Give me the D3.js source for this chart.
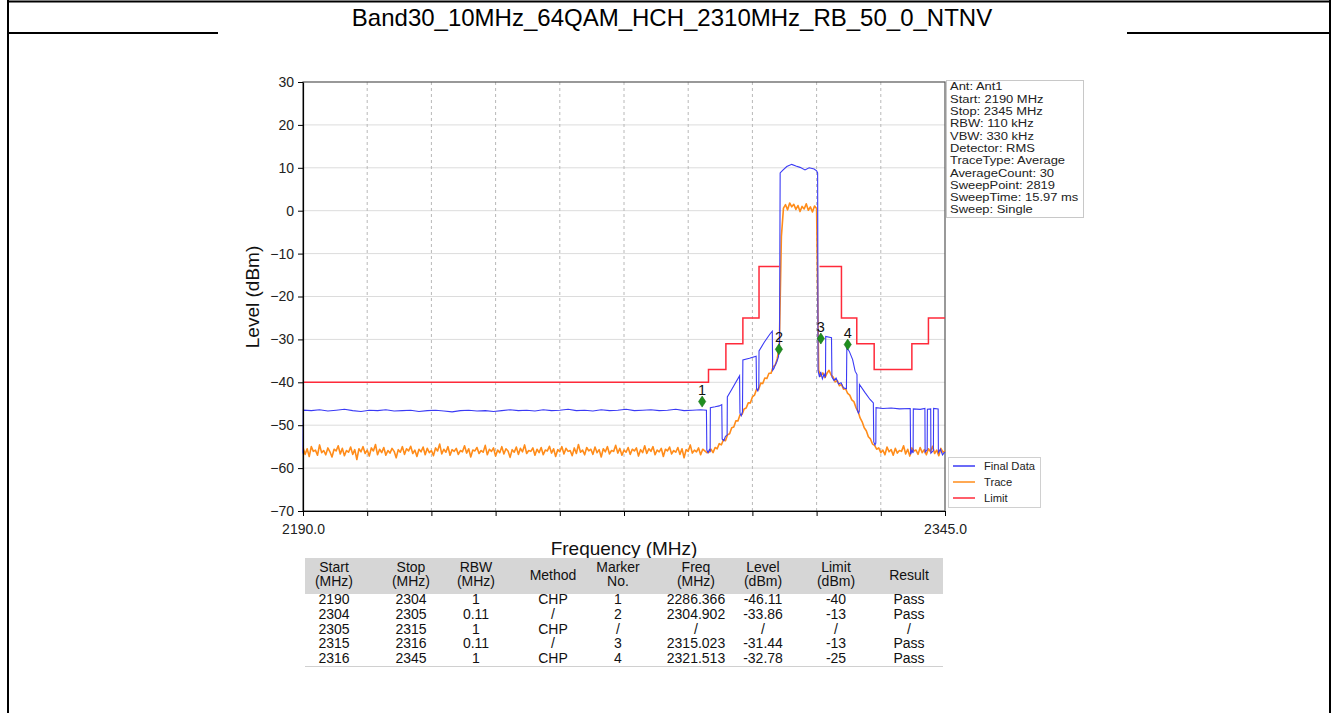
<!DOCTYPE html>
<html><head><meta charset="utf-8">
<script src="https://cdn.jsdelivr.net/npm/d3@7"></script>
<style>
body{margin:0;background:#fff}
svg{display:block;font-family:"Liberation Sans",Arial,sans-serif}
</style>
</head><body>
<svg id="c" width="1338" height="713"></svg>
<script>
// ---------------- DATA ----------------
const title = "Band30_10MHz_64QAM_HCH_2310MHz_RB_50_0_NTNV";
const xDomain = [2190, 2345];
const yDomain = [-70, 30];
const xTickValues = [2190, 2205.5, 2221, 2236.5, 2252, 2267.5, 2283, 2298.5, 2314, 2329.5, 2345];
const yTickValues = [-70, -60, -50, -40, -30, -20, -10, 0, 10, 20, 30];
const xLabel = "Frequency (MHz)";
const yLabel = "Level (dBm)";

// Trace (orange), sweep grid step 0.5 MHz, split by region
const traceStep = 0.5;
const traceFloorLeftStart = 2190.0;
const traceFloorLeft = [
-55.2,-56.8,-55.5,-57.3,-55.0,-56.1,-55.8,-57.0,-54.6,-56.4,-55.9,-56.9,-55.3,-56.2,
-57.4,-55.6,-56.0,-54.8,-56.7,-55.4,-57.1,-55.9,-56.3,-55.1,-56.8,-55.7,-58.0,-55.5,
-56.2,-55.0,-56.6,-55.8,-57.2,-55.3,-56.0,-54.5,-56.9,-55.6,-56.4,-55.2,-57.0,-55.9,
-56.5,-55.4,-56.1,-57.6,-55.7,-56.3,-55.0,-56.8,-55.5,-56.0,-54.9,-56.6,-55.8,-57.3,
-55.6,-56.2,-55.1,-56.9,-55.4,-56.4,-55.9,-57.1,-55.3,-56.0,-54.4,-56.7,-55.6,-56.3,
-55.0,-57.0,-55.7,-56.1,-55.4,-56.8,-55.9,-56.2,-54.8,-56.5,-55.5,-57.4,-55.8,-56.0,
-55.2,-56.6,-55.9,-56.3,-54.7,-56.9,-55.6,-56.1,-55.3,-57.2,-55.8,-56.4,-55.0,-56.7,
-55.5,-56.0,-57.5,-55.7,-56.3,-55.1,-56.8,-55.4,-56.2,-54.6,-56.6,-55.9,-56.1,-55.3,
-57.0,-55.6,-56.4,-55.2,-56.9,-55.8,-56.0,-54.9,-56.5,-55.5,-57.3,-55.7,-56.2,-55.0,
-56.7,-55.4,-56.1,-55.9,-57.1,-55.3,-56.6,-54.5,-56.3,-55.8,-56.9,-55.2,-56.0,-55.6,
-56.8,-55.1,-56.4,-55.7,-57.4,-55.5,-56.2,-55.0,-56.7,-55.9,-56.1,-54.7,-56.5,-55.4,
-57.0,-55.8,-56.3,-55.2,-56.8,-55.6,-56.0,-55.3,-57.2,-55.7,-56.4,-54.8,-56.6,-55.5,
-56.1,-55.0,-56.9,-55.8,-56.2,-55.4,-57.3,-55.6,-56.0,-55.1,-56.7,-55.9,-56.3,-55.2,
-56.8,-55.5,-57.6,-55.7,-56.1,-54.6,-56.5,-55.8,-56.2,-55.3,-56.9,-55.6,-56.0,-56.4];
const traceRiseStart = 2288.0;
const traceRise = [-56.3,-55.6,-56.4,-55.2,-55.5,-54.3,-54.6,-53.4,-53.6,-52.2,-52.0,-50.6,-50.4,-49.0,
-49.0,-47.6,-47.5,-46.2,-46.0,-44.8,-44.8,-43.4,-43.0,-41.6,-41.7,-40.2,-40.3,-39.0,-39.1,-37.9,
-37.9,-36.4,-36.0,-34.5];
const traceTopStart = 2305.0;
const traceTop = [-31.5,-6.0,0.6,1.4,0.2,1.8,0.9,1.5,0.3,1.2,-0.2,1.0,0.4,1.6,0.1,0.9,-0.3,1.1,0.5];
const traceFallStart = 2314.5;
const traceFall = [-37.2,-38.6,-37.8,-38.9,-37.9,-37.2,-38.3,-38.8,-39.9,-39.6,-40.8,-40.5,-41.6,-41.5,
-42.6,-43.0,-44.1,-44.5,-45.9,-46.7,-48.3,-49.2,-50.6,-51.3,-52.7,-53.2,-54.4,-54.7,-55.6];
const traceFloorRightStart = 2329.0;
const traceFloorRight = [-55.3,-56.4,-55.8,-56.9,-55.1,-56.2,-55.7,-57.0,-55.4,-56.5,-55.9,-56.1,-54.8,
-56.7,-55.6,-57.2,-55.3,-56.0,-55.8,-56.8,-55.2,-56.4,-55.7,-56.9,-55.5,-56.2,-54.9,-56.6,-55.8,
-57.1,-55.4,-56.3,-56.0];

// Final Data (blue)
const finalFreq = [2190.0,2190.1,2192,2194,2196,2198,2200,2202,2204,2206,2208,2210,2212,2214,2216,2218,
2220,2222,2224,2226,2228,2230,2232,2234,2236,2238,2240,2242,2244,2246,2248,2250,2252,2254,2256,2258,
2260,2262,2264,2266,2268,2270,2272,2274,2276,2278,2280,2282,2284,2286,2287.4,
2287.5,2287.8,2288.1,2288.3,2288.35,2289.5,2290.5,2291.1,2291.2,2291.6,2292.0,2292.4,2292.45,2293.5,
2294.5,2295.4,2295.5,2295.8,2296.1,2296.2,2297.8,2299.4,2299.5,2299.8,2300.05,2300.1,2301.4,2302.7,
2303.3,2303.4,2303.7,2304.0,2304.4,2304.8,2305.05,2305.2,2305.8,2306.8,2308.0,2309.0,2310.0,2311.2,
2312.2,2313.4,2314.0,2314.25,2314.35,2314.7,2315.0,2315.4,2315.8,2316.15,2316.2,2317.6,2317.7,2318.2,
2318.7,2319.3,2319.9,2320.5,2321.2,2321.3,2321.9,2322.7,2323.3,2323.75,2323.8,2324.1,2324.3,2324.35,
2325.7,2326.9,2327.7,2327.8,2328.1,2328.3,2328.35,2330,2332,2334,2336.6,2336.7,2337.0,2337.3,2337.35,
2339,2340.15,2340.2,2340.7,2340.75,2341.55,2341.6,2342.2,2342.25,2343.35,2343.4,2343.9,2344.4,2345.0];
const finalLevel = [-56.6,-46.5,-46.6,-46.4,-46.7,-46.5,-46.3,-46.6,-46.8,-46.5,-46.6,-46.4,-46.7,-46.6,
-46.5,-46.8,-46.6,-46.5,-46.7,-46.9,-46.6,-46.5,-46.7,-46.6,-46.8,-46.6,-46.4,-46.6,-46.5,-46.7,-46.4,
-46.6,-46.5,-46.3,-46.6,-46.5,-46.7,-46.4,-46.6,-46.5,-46.3,-46.6,-46.5,-46.4,-46.6,-46.5,-46.3,-46.6,
-46.5,-46.4,-46.5,
-55.8,-56.4,-55.7,-56.0,-45.9,-45.7,-45.5,-45.2,-53.2,-53.6,-52.6,-52.3,-43.4,-41.7,
-40.0,-38.5,-47.2,-47.8,-46.9,-34.8,-34.4,-33.9,-41.5,-42.0,-41.0,-32.7,-30.6,-28.8,
-28.1,-37.2,-36.8,-36.0,-35.2,-34.0,-31.0,8.8,9.4,10.3,10.8,10.4,10.1,9.5,
10.0,9.7,9.3,8.8,-37.3,-38.8,-37.6,-39.2,-38.1,-38.9,-29.3,-29.6,-38.8,-39.6,
-39.0,-40.4,-40.1,-41.3,-41.5,-31.9,-32.8,-34.7,-37.4,-38.2,-46.5,-47.2,-46.8,-40.5,
-42.4,-44.0,-44.8,-53.9,-54.6,-54.2,-45.9,-46.1,-46.0,-46.2,-46.1,-56.8,-55.9,-56.5,-46.2,
-46.3,-46.1,-56.3,-55.7,-46.3,-46.2,-56.5,-55.9,-46.1,-46.2,-56.4,-55.6,-56.9,-56.2];

// Limit (red) steps
const limitStart = [2190, 2287.9, 2292.1, 2296.2, 2300.1, 2314.7, 2320.0, 2323.7, 2327.9, 2337.0, 2341.0];
const limitStop  = [2287.9, 2292.1, 2296.2, 2300.1, 2305.0, 2320.0, 2323.7, 2327.9, 2337.0, 2341.0, 2345];
const limitLevel = [-40, -37, -31, -25, -13, -13, -25, -31, -37, -31, -25];

// Markers
const markerNo = [1, 2, 3, 4];
const markerFreq = [2286.366, 2304.902, 2315.023, 2321.513];
const markerPlotLevel = [-44.5, -32.3, -29.8, -31.2];

const infoLines = ["Ant: Ant1","Start: 2190 MHz","Stop: 2345 MHz","RBW: 110 kHz","VBW: 330 kHz",
"Detector: RMS","TraceType: Average","AverageCount: 30","SweepPoint: 2819","SweepTime: 15.97 ms","Sweep: Single"];
const legendNames = ["Final Data", "Trace", "Limit"];
const legendColors = ["#3a3af5", "#ff8c1a", "#ff2a3a"];

// Table
const tableHeader1 = ["Start","Stop","RBW","Method","Marker","Freq","Level","Limit","Result"];
const tableHeader2 = ["(MHz)","(MHz)","(MHz)","","No.","(MHz)","(dBm)","(dBm)",""];
const colStart  = ["2190","2304","2305","2315","2316"];
const colStop   = ["2304","2305","2315","2316","2345"];
const colRBW    = ["1","0.11","1","0.11","1"];
const colMethod = ["CHP","/","CHP","/","CHP"];
const colMarker = ["1","2","/","3","4"];
const colFreq   = ["2286.366","2304.902","/","2315.023","2321.513"];
const colLevel  = ["-46.11","-33.86","/","-31.44","-32.78"];
const colLimit  = ["-40","-13","/","-13","-25"];
const colResult = ["Pass","Pass","/","Pass","Pass"];

// ---------------- DRAW ----------------
const svg = d3.select("#c");
const FONT = '"Liberation Sans",Arial,sans-serif';

// page frame and title
svg.append("line").attr("x1",8).attr("x2",8).attr("y1",0).attr("y2",713).attr("stroke","#000").attr("stroke-width",2);
svg.append("line").attr("x1",1330).attr("x2",1330).attr("y1",0).attr("y2",713).attr("stroke","#000").attr("stroke-width",2);
svg.append("line").attr("x1",8).attr("x2",1330).attr("y1",1.5).attr("y2",1.5).attr("stroke","#000").attr("stroke-width",2);
svg.append("line").attr("x1",8).attr("x2",218).attr("y1",33).attr("y2",33).attr("stroke","#000").attr("stroke-width",2);
svg.append("line").attr("x1",1127).attr("x2",1330).attr("y1",33).attr("y2",33).attr("stroke","#000").attr("stroke-width",2);
svg.append("text").attr("x",672).attr("y",26).attr("text-anchor","middle")
  .attr("font-size",24).attr("fill","#000").text(title);

const x = d3.scaleLinear().domain(xDomain).range([303, 945]);
const y = d3.scaleLinear().domain(yDomain).range([511, 82]);

// grid
const g = svg.append("g");
g.selectAll(".hg").data(yTickValues.slice(1, -1)).join("line")
  .attr("x1", x(xDomain[0])).attr("x2", x(xDomain[1]))
  .attr("y1", d => y(d)).attr("y2", d => y(d))
  .attr("stroke", "#dcdcdc").attr("stroke-width", 1);
g.selectAll(".vg").data(xTickValues.slice(1, -1)).join("line")
  .attr("x1", d => x(d)).attr("x2", d => x(d))
  .attr("y1", y(yDomain[0])).attr("y2", y(yDomain[1]))
  .attr("stroke", "#b8b8b8").attr("stroke-width", 1).attr("stroke-dasharray", "3,3");

// plot frame
g.append("rect").attr("x", x(xDomain[0])).attr("y", y(yDomain[1]))
  .attr("width", x(xDomain[1]) - x(xDomain[0])).attr("height", y(yDomain[0]) - y(yDomain[1]))
  .attr("fill", "none").attr("stroke", "#555").attr("stroke-width", 1.2);

// trace data assembly
function seg(start, vals) { return vals.map((v, i) => [start + i * traceStep, v]); }
const traceData = [].concat(
  seg(traceFloorLeftStart, traceFloorLeft), seg(traceRiseStart, traceRise),
  seg(traceTopStart, traceTop), seg(traceFallStart, traceFall),
  seg(traceFloorRightStart, traceFloorRight));
const finalData = finalFreq.map((f, i) => [f, finalLevel[i]]);

const line = d3.line().x(d => x(d[0])).y(d => y(d[1]));

const plot = svg.append("g");
// limit
const limitPts = [];
limitStart.forEach((s, i) => {
  if (i > 0 && Math.abs(limitStop[i - 1] - s) > 1e-9) limitPts.push(null);
  limitPts.push([s, limitLevel[i]]);
  limitPts.push([limitStop[i], limitLevel[i]]);
});
const limitLine = d3.line().defined(d => d !== null).x(d => x(d[0])).y(d => y(d[1]));

plot.append("path").datum(traceData).attr("d", line)
  .attr("fill", "none").attr("stroke", legendColors[1]).attr("stroke-width", 1.6).attr("stroke-linejoin","round");
plot.append("path").datum(finalData).attr("d", line)
  .attr("fill", "none").attr("stroke", legendColors[0]).attr("stroke-width", 1.1);
plot.append("path").datum(limitPts).attr("d", limitLine)
  .attr("fill", "none").attr("stroke", legendColors[2]).attr("stroke-width", 1.5);

// markers
const mk = plot.selectAll(".mk").data(markerNo).join("g")
  .attr("transform", (d, i) => `translate(${x(markerFreq[i])},${y(markerPlotLevel[i])})`);
mk.append("path").attr("d", "M0,-5.5L3.6,0L0,5.5L-3.6,0Z").attr("fill", "#1f8f1f").attr("stroke", "#157015").attr("stroke-width", 0.6);
mk.append("text").attr("y", -7).attr("text-anchor", "middle").attr("font-size", 14.5)
  .attr("fill", "#111").text(d => d);

// axes
const yAxis = d3.axisLeft(y).tickValues(yTickValues).tickSize(5).tickSizeOuter(0).tickPadding(4);
const xAxis = d3.axisBottom(x).tickValues(xTickValues).tickSize(5).tickSizeOuter(0).tickPadding(8)
  .tickFormat((d, i) => (i === 0 || i === xTickValues.length - 1) ? d.toFixed(1) : "");
const ya = svg.append("g").attr("transform", `translate(${x(xDomain[0])},0)`).call(yAxis);
const xa = svg.append("g").attr("transform", `translate(0,${y(yDomain[0])})`).call(xAxis);
[ya, xa].forEach(a => {
  a.selectAll("text").attr("font-size", 14).attr("font-family", FONT).attr("fill", "#222");
  a.selectAll("line").attr("stroke", "#000");
  a.select(".domain").attr("stroke", "#000").attr("stroke-width", 1.2);
});

svg.append("text").attr("x", 624).attr("y", 555).attr("text-anchor", "middle")
  .attr("font-size", 19).attr("fill", "#111").text(xLabel);
svg.append("text").attr("transform", "translate(259,297) rotate(-90)").attr("text-anchor", "middle")
  .attr("font-size", 19).attr("fill", "#111").text(yLabel);

// info box
svg.append("rect").attr("x", 946.5).attr("y", 80.5).attr("width", 137).attr("height", 137)
  .attr("fill", "#fff").attr("stroke", "#c8c8c8");
svg.append("g").attr("transform", "translate(950,0) scale(1.2,1)")
  .selectAll(".info").data(infoLines).join("text")
  .attr("x", 0).attr("y", (d, i) => 90.5 + i * 12.3).attr("font-size", 10.8).attr("fill", "#222").text(d => d);

// legend
svg.append("rect").attr("x", 948.5).attr("y", 457.5).attr("width", 92).attr("height", 50)
  .attr("fill", "#fff").attr("stroke", "#d0d0d0");
const lg = svg.selectAll(".lg").data(legendNames).join("g")
  .attr("transform", (d, i) => `translate(953,${466 + i * 16})`);
lg.append("line").attr("x1", 0).attr("x2", 22).attr("stroke", (d, i) => legendColors[i]).attr("stroke-width", 1.5);
lg.append("text").attr("x", 31).attr("y", 4).attr("font-size", 11.2).attr("fill", "#222").text(d => d);

// table
const colX = [334, 411, 476, 553, 618, 696, 763, 836, 909];
svg.append("rect").attr("x", 305).attr("y", 558).attr("width", 638).attr("height", 36).attr("fill", "#d6d6d6");
tableHeader1.forEach((h, i) => {
  const two = tableHeader2[i] !== "";
  svg.append("text").attr("x", colX[i]).attr("y", two ? 572 : 580).attr("text-anchor", "middle")
    .attr("font-size", 14).attr("fill", "#111").text(h);
  if (two) svg.append("text").attr("x", colX[i]).attr("y", 586).attr("text-anchor", "middle")
    .attr("font-size", 14).attr("fill", "#111").text(tableHeader2[i]);
});
const cols = [colStart, colStop, colRBW, colMethod, colMarker, colFreq, colLevel, colLimit, colResult];
cols.forEach((c, ci) => c.forEach((v, ri) => {
  svg.append("text").attr("x", colX[ci]).attr("y", 604 + ri * 14.8).attr("text-anchor", "middle")
    .attr("font-size", 14).attr("fill", "#111").text(v);
}));
svg.append("line").attr("x1", 305).attr("x2", 943).attr("y1", 666.5).attr("y2", 666.5).attr("stroke", "#d0d0d0");
</script>
</body></html>
